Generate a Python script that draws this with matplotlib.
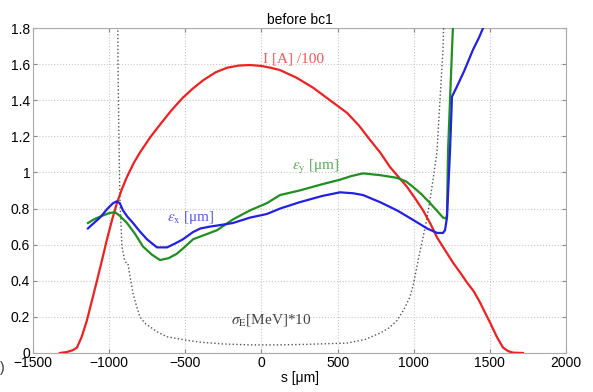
#!/usr/bin/env python3
#
# Slice parameters before bc1: current, emittances and energy spread
#
import matplotlib
matplotlib.use('Agg')
import matplotlib.pyplot as plt

plt.rcParams['font.family'] = ['Liberation Sans', 'DejaVu Sans']
plt.rcParams['mathtext.fontset'] = 'stix'

# Current I[A]/100
s_cur = [-1323, -1280, -1240, -1211, -1180, -1146, -1110, -1080, -1045, -1014,
         -980, -949, -915, -883, -840, -798, -730, -666, -590, -515, -450,
         -384, -300, -226, -150, -75, 0, 60, 122, 230, 338, 450, 562, 640,
         713, 780, 844, 900, 956, 1010, 1061, 1110, 1153, 1205, 1258, 1305,
         1350, 1395, 1435, 1470, 1500, 1545, 1586, 1620, 1651, 1717]
cur = [0.0, 0.005, 0.015, 0.03, 0.09, 0.18, 0.30, 0.40, 0.52, 0.63,
       0.74, 0.83, 0.91, 0.975, 1.05, 1.11, 1.195, 1.265, 1.345, 1.415, 1.465,
       1.51, 1.555, 1.58, 1.592, 1.595, 1.59, 1.58, 1.567, 1.525, 1.47, 1.40, 1.33, 1.26,
       1.18, 1.11, 1.03, 0.975, 0.92, 0.855, 0.79, 0.715, 0.64, 0.57, 0.50, 0.445,
       0.39, 0.34, 0.28, 0.22, 0.17, 0.09, 0.03, 0.01, 0.002, 0.0]

# Vertical emittance
s_ey = [-1139, -1100, -1060, -1000, -962, -930, -883, -830, -778, -720,
        -666, -610, -555, -500, -449, -370, -292, -187, -75, 36, 122, 250,
        400, 516, 590, 667, 780, 890, 950, 995, 1050, 1107, 1150, 1192, 1210,
        1218, 1225, 1251, 1262]
ey = [0.72, 0.74, 0.755, 0.775, 0.78, 0.76, 0.72, 0.66, 0.59, 0.545,
      0.515, 0.525, 0.55, 0.59, 0.63, 0.655, 0.68, 0.74, 0.79, 0.83, 0.875, 0.90,
      0.935, 0.96, 0.98, 0.995, 0.985, 0.97, 0.95, 0.92, 0.88, 0.83, 0.79, 0.75, 0.745,
      0.76, 1.12, 1.68, 1.90]

# Horizontal emittance
s_ex = [-1139, -1100, -1060, -1010, -974, -950, -930, -909, -880, -843,
        -800, -752, -686, -620, -570, -515, -449, -400, -338, -260, -187,
        -75, 36, 122, 250, 400, 516, 600, 667, 780, 890, 990, 1087, 1153,
        1192, 1205, 1218, 1238, 1251, 1280, 1330, 1389, 1430, 1460, 1475]
ex = [0.69, 0.72, 0.75, 0.80, 0.83, 0.84, 0.83, 0.79, 0.755, 0.72,
      0.675, 0.63, 0.585, 0.585, 0.605, 0.63, 0.67, 0.69, 0.70, 0.71, 0.72,
      0.75, 0.77, 0.80, 0.835, 0.87, 0.89, 0.885, 0.875, 0.835, 0.79, 0.74, 0.69, 0.665,
      0.665, 0.68, 0.75, 1.12, 1.42, 1.47, 1.56, 1.68, 1.75, 1.81, 1.85]

# Energy spread sigma_E[MeV]*10
s_se = [-944, -942, -936, -929, -916, -900, -883, -875, -860, -843, -820,
        -798, -765, -732, -680, -620, -500, -403, -250, -75, 122, 300, 450,
        562, 680, 778, 840, 890, 935, 975, 1000, 1021, 1040, 1061, 1085,
        1107, 1130, 1153, 1172, 1192, 1200]
se = [1.95, 1.62, 1.20, 0.85, 0.59, 0.52, 0.49, 0.49, 0.41, 0.33, 0.26,
      0.20, 0.165, 0.145, 0.115, 0.09, 0.072, 0.06, 0.05, 0.045, 0.045, 0.048, 0.052,
      0.055, 0.075, 0.11, 0.14, 0.18, 0.24, 0.31, 0.39, 0.48, 0.56, 0.64, 0.74,
      0.85, 0.98, 1.12, 1.40, 1.68, 1.95]

xticks = [-1500, -1000, -500, 0, 500, 1000, 1500, 2000]
yticks = [0, 0.2, 0.4, 0.6, 0.8, 1, 1.2, 1.4, 1.6, 1.8]
ylabels = ['0', '0.2', '0.4', '0.6', '0.8', '1', '1.2', '1.4', '1.6', '1.8']

cred = '#f02020'
cgreen = '#1f8f1f'
cblue = '#2020e6'

fig = plt.figure(figsize=(5.93, 3.92), dpi=100)
ax = fig.add_axes([0.0556, 0.0995, 0.899, 0.829])

ax.plot(s_se, se, ls=':', color='#555555', lw=1.0, zorder=3)
ax.plot(s_cur, cur, color=cred, lw=1.6, zorder=4)
ax.plot(s_ey, ey, color=cgreen, lw=1.6, zorder=5)
ax.plot(s_ex, ex, color=cblue, lw=1.6, zorder=6)

serif = ['Liberation Serif', 'DejaVu Serif']
ax.text(10, 1.63, 'I [A] /100', color=cred, fontsize=11, family=serif,
        va='center', ha='left', alpha=0.75)
ax.text(-620, 0.75, r'$\varepsilon_{\mathrm{x}}$ [μm]', color=cblue,
        fontsize=11, family=serif, va='center', ha='left', alpha=0.75)
ax.text(200, 1.03, r'$\varepsilon_{\mathrm{y}}$ [μm]', color=cgreen,
        fontsize=11, family=serif, va='center', ha='left', alpha=0.75)
ax.text(-200, 0.18, r'$\sigma_{\mathrm{E}}$[MeV]*10', color='#444444',
        fontsize=11, family=serif, va='center', ha='left')

ax.set_xlim(-1500, 2000)
ax.set_ylim(0, 1.8)
ax.set_xticks(xticks)
ax.set_yticks(yticks)
ax.set_yticklabels(ylabels)
ax.tick_params(direction='in', length=3, top=True, right=True,
               labelsize=10, color='#888888', pad=2)
for sp in ax.spines.values():
    sp.set_color('#aaaaaa')
ax.grid(ls=':', color='#c8c8c8', lw=0.8, zorder=0)
ax.set_axisbelow(True)

ax.set_title('before bc1', fontsize=10, pad=3)
ax.set_xlabel('s [μm]', fontsize=10, labelpad=1)

fig.text(0.0, 0.05, ')', fontsize=10, color='#333333')

fig.savefig('out.png', dpi=100)
